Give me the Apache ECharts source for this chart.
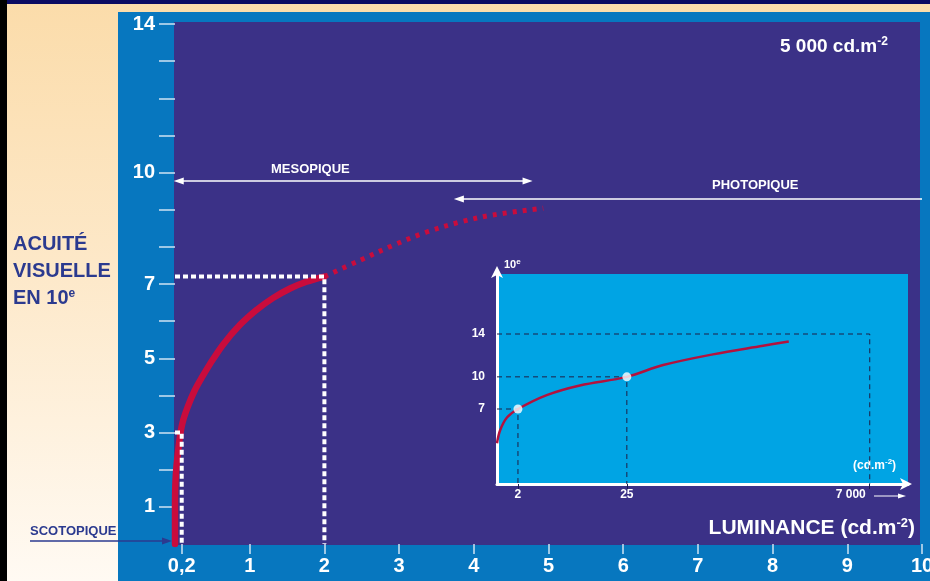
<!DOCTYPE html>
<html><head><meta charset="utf-8">
<script src="https://cdn.jsdelivr.net/npm/echarts@6/dist/echarts.min.js"></script>
<style>
html,body{margin:0;padding:0;width:930px;height:581px;overflow:hidden;}
#wrap{position:relative;width:930px;height:581px;background:linear-gradient(to bottom,#fbdcaa 0%,#fde8c8 45%,#fffaf3 100%);}
.b{position:absolute;}
#chart{position:absolute;left:0;top:0;width:930px;height:581px;}
</style></head><body>
<div id="wrap">
<div class="b" style="left:0;top:0;width:930px;height:4px;background:#0b0b62"></div>
<div class="b" style="left:0;top:0;width:7px;height:581px;background:#000"></div>
<div class="b" style="left:118px;top:12px;width:812px;height:569px;background:#0777bf"></div>
<div class="b" style="left:174px;top:22px;width:746px;height:523px;background:#3b3187"></div>
<div id="chart"></div>
</div>
<script>
const FONT = 'Liberation Sans, Arial, Helvetica, sans-serif';

// ---- main chart data (luminance vs visual acuity in tenths) ----
const mainSolidX = [0, 0, 0.013, 0.06, 0.10, 0.17, 0.26, 0.37, 0.46, 0.64, 0.87, 1.09, 1.31, 1.54, 1.76, 2.0];
const mainSolidY = [0, 1.0, 1.91, 2.8, 3.26, 3.69, 4.12, 4.52, 4.82, 5.36, 5.90, 6.30, 6.62, 6.88, 7.06, 7.2];
const mainDottedX = [2.0, 2.48, 2.93, 3.37, 3.82, 4.26, 4.93];
const mainDottedY = [7.2, 7.64, 8.05, 8.40, 8.67, 8.86, 9.04];
const scotopicPoint = [0.09, 3];
const mesopicPoint = [2.0, 7.2];
const xTickValues = [0.09, 1, 2, 3, 4, 5, 6, 7, 8, 9, 10];
const xTickLabels = ['0,2', '1', '2', '3', '4', '5', '6', '7', '8', '9', '10'];
const yTickValues = [1, 2, 3, 4, 5, 6, 7, 8, 9, 10, 11, 12, 13, 14];
const yLabelValues = [1, 3, 5, 7, 10, 14];
const mesopicRange = [0.05, 4.72];
const mesopicLevel = 9.77;
const photopicRange = [3.80, 10];
const photopicLevel = 9.29;

// ---- inset data ----
const insetX = [1.23, 1.32, 1.55, 2, 3.9, 8.4, 25, 58, 184, 590, 1070];
const insetY = [3.8, 5.0, 6.2, 7, 8.3, 9.2, 10, 11.1, 12.1, 12.9, 13.3];
const insetDots = [[2, 7], [25, 10]];
const insetRefs = [[2, 7], [25, 10], [7000, 14]];
const insetXTicks = [2, 25, 7000];
const insetXLabels = ['2', '25', '7 000'];
const insetYLabels = [7, 10, 14];

const zip = (a, b) => a.map((v, i) => [v, b[i]]);
const labelFor = (vals, labels) => v => {
  const i = vals.findIndex(t => Math.abs(t - v) < 1e-6);
  return i < 0 ? '' : labels[i];
};

const chart = echarts.init(document.getElementById('chart'), null, {renderer: 'canvas'});

const guideStyle = {color: '#ffffff', width: 4, type: [5, 3], cap: 'butt'};
const insetDash = {color: '#1e1e46', width: 1, type: [5, 4]};

const series = [
  {
    type: 'line', xAxisIndex: 0, yAxisIndex: 0, symbol: 'none', z: 5, silent: true,
    lineStyle: guideStyle,
    data: [[0, mesopicPoint[1]], mesopicPoint, [mesopicPoint[0], 0]],
    markLine: {
      silent: true, animation: false, symbol: ['triangle', 'triangle'], symbolSize: [7, 10],
      label: {show: false}, lineStyle: {color: '#ffffff', width: 1.5, type: 'solid'},
      emphasis: {disabled: true},
      data: [[{coord: [mesopicRange[0], mesopicLevel]}, {coord: [mesopicRange[1], mesopicLevel]}]]
    }
  },
  {
    type: 'line', xAxisIndex: 0, yAxisIndex: 0, symbol: 'none', z: 5, silent: true,
    lineStyle: guideStyle,
    data: [[0, scotopicPoint[1]], scotopicPoint, [scotopicPoint[0], 0]],
    markLine: {
      silent: true, animation: false, symbol: ['triangle', 'none'], symbolSize: [7, 10],
      label: {show: false}, lineStyle: {color: '#ffffff', width: 1.5, type: 'solid'},
      emphasis: {disabled: true},
      data: [[{coord: [photopicRange[0], photopicLevel]}, {coord: [photopicRange[1], photopicLevel]}]]
    }
  },
  {
    type: 'line', xAxisIndex: 0, yAxisIndex: 0, symbol: 'none', z: 4, silent: true, smooth: 0.3,
    lineStyle: {color: '#c90c3c', width: 6.5, cap: 'round'},
    data: zip(mainSolidX, mainSolidY)
  },
  {
    type: 'line', xAxisIndex: 0, yAxisIndex: 0, symbol: 'none', z: 4, silent: true, smooth: 0.35,
    lineStyle: {color: '#c90c3c', width: 5, type: [4, 6], cap: 'butt'},
    data: zip(mainDottedX, mainDottedY)
  },
  {
    type: 'line', xAxisIndex: 1, yAxisIndex: 1, symbol: 'none', z: 6, silent: true, smooth: 0.35,
    lineStyle: {color: '#b3123e', width: 2.5},
    data: zip(insetX, insetY)
  }
];
insetRefs.forEach(p => {
  series.push({
    type: 'line', xAxisIndex: 1, yAxisIndex: 1, symbol: 'none', z: 5, silent: true,
    lineStyle: insetDash,
    data: [[1.23, p[1]], p, [p[0], 0]]
  });
});
series.push({
  type: 'scatter', xAxisIndex: 1, yAxisIndex: 1, z: 8, silent: true,
  symbolSize: 9, itemStyle: {color: '#ffffff'}, data: insetDots
});

const supStyle = (size, color) => ({fontSize: size, fontWeight: 'bold', fontFamily: FONT, fill: color, verticalAlign: 'top'});

const option = {
  backgroundColor: 'transparent',
  animation: false,
  grid: [
    {left: 175, right: 8, top: 24, bottom: 37, containLabel: false, outerBoundsMode: 'none', show: false},
    {left: 497, right: 22, top: 274, bottom: 97, containLabel: false, outerBoundsMode: 'none', show: true, backgroundColor: '#00a4e4', borderWidth: 0}
  ],
  xAxis: [
    {
      type: 'value', gridIndex: 0, min: 0, max: 10,
      axisLine: {show: false}, splitLine: {show: false},
      axisTick: {show: true, customValues: xTickValues, length: 10, lineStyle: {color: '#cfe3f4', width: 1.5}},
      axisLabel: {customValues: xTickValues, formatter: labelFor(xTickValues, xTickLabels), color: '#ffffff', fontWeight: 'bold', fontSize: 20, fontFamily: FONT, margin: 12}
    },
    {
      type: 'log', logBase: 10, gridIndex: 1, min: 1.23, max: 17000,
      axisLine: {show: true, lineStyle: {color: '#ffffff', width: 3}, symbol: ['none', 'arrow'], symbolSize: [9, 12], symbolOffset: [0, 4]},
      splitLine: {show: false}, minorTick: {show: false},
      axisTick: {show: true, customValues: insetXTicks, length: 5, lineStyle: {color: '#1c1c50', width: 1}},
      axisLabel: {
        customValues: insetXTicks,
        formatter: v => {
          const t = labelFor(insetXTicks, insetXLabels)(v);
          return v > 1000 ? '{r|' + t + '}' : t;
        },
        rich: {r: {color: '#ffffff', fontWeight: 'bold', fontSize: 12, fontFamily: FONT, padding: [0, 38, 0, 0]}},
        color: '#ffffff', fontWeight: 'bold', fontSize: 12, fontFamily: FONT, margin: 5
      }
    }
  ],
  yAxis: [
    {
      type: 'value', gridIndex: 0, min: 0, max: 14,
      axisLine: {show: false}, splitLine: {show: false},
      axisTick: {show: true, customValues: yTickValues, length: 16, lineStyle: {color: '#cfe3f4', width: 1.5}},
      axisLabel: {customValues: yLabelValues, color: '#ffffff', fontWeight: 'bold', fontSize: 20, fontFamily: FONT, margin: 20}
    },
    {
      type: 'value', gridIndex: 1, min: 0, max: 19.6,
      axisLine: {show: true, lineStyle: {color: '#ffffff', width: 3}, symbol: ['none', 'arrow'], symbolSize: [9, 12], symbolOffset: [0, 8]},
      splitLine: {show: false}, axisTick: {show: false},
      axisLabel: {customValues: insetYLabels, color: '#ffffff', fontWeight: 'bold', fontSize: 12, fontFamily: FONT, margin: 12}
    }
  ],
  graphic: [
    {
      type: 'text', left: 13, top: 234, silent: true,
      style: {
        text: '{a|ACUITÉ}\n{a|VISUELLE}\n{a|EN 10}{s|e}',
        rich: {
          a: {fontSize: 20, fontWeight: 'bold', fontFamily: FONT, fill: '#2b3a8f', lineHeight: 27},
          s: Object.assign(supStyle(12, '#2b3a8f'), {lineHeight: 27, padding: [3, 0, 0, 0]})
        }
      }
    },
    {type: 'text', left: 30, top: 525, silent: true, style: {text: 'SCOTOPIQUE', fill: '#2b3a8f', font: 'bold 13px ' + FONT}},
    {type: 'line', silent: true, shape: {x1: 30, y1: 541, x2: 165, y2: 541}, style: {stroke: '#2b3a8f', lineWidth: 1.5}},
    {type: 'polygon', silent: true, shape: {points: [[162, 537.5], [172, 541], [162, 544.5]]}, style: {fill: '#2b3a8f'}},
    {type: 'text', left: 271, top: 163, silent: true, style: {text: 'MESOPIQUE', fill: '#ffffff', font: 'bold 13px ' + FONT}},
    {type: 'text', left: 712, top: 179, silent: true, style: {text: 'PHOTOPIQUE', fill: '#ffffff', font: 'bold 13px ' + FONT}},
    {
      type: 'text', left: 780, top: 36, silent: true,
      style: {
        text: '{a|5 000 cd.m}{s|-2}',
        rich: {
          a: {fontSize: 19, fontWeight: 'bold', fontFamily: FONT, fill: '#ffffff', lineHeight: 21},
          s: Object.assign(supStyle(12, '#ffffff'), {lineHeight: 21})
        }
      }
    },
    {
      type: 'text', right: 15, top: 517, silent: true,
      style: {
        text: '{a|LUMINANCE (cd.m}{s|-2}{a|)}',
        rich: {
          a: {fontSize: 21, fontWeight: 'bold', fontFamily: FONT, fill: '#ffffff', lineHeight: 23},
          s: Object.assign(supStyle(13, '#ffffff'), {lineHeight: 23})
        }
      }
    },
    {
      type: 'text', left: 504, top: 258, silent: true,
      style: {
        text: '{a|10}{s|e}',
        rich: {
          a: {fontSize: 11, fontWeight: 'bold', fontFamily: FONT, fill: '#ffffff', lineHeight: 14},
          s: Object.assign(supStyle(8, '#ffffff'), {lineHeight: 14})
        }
      }
    },
    {
      type: 'text', left: 853, top: 458, silent: true,
      style: {
        text: '{a|(cd.m}{s|-2}{a|)}',
        rich: {
          a: {fontSize: 12, fontWeight: 'bold', fontFamily: FONT, fill: '#ffffff', lineHeight: 15},
          s: Object.assign(supStyle(8, '#ffffff'), {lineHeight: 15})
        }
      }
    },
    {type: 'line', silent: true, shape: {x1: 874, y1: 496, x2: 900, y2: 496}, style: {stroke: '#ffffff', lineWidth: 1}},
    {type: 'polygon', silent: true, shape: {points: [[898, 493.5], [906, 496], [898, 498.5]]}, style: {fill: '#ffffff'}}
  ],
  series: series
};
chart.setOption(option);
</script>
</body></html>
